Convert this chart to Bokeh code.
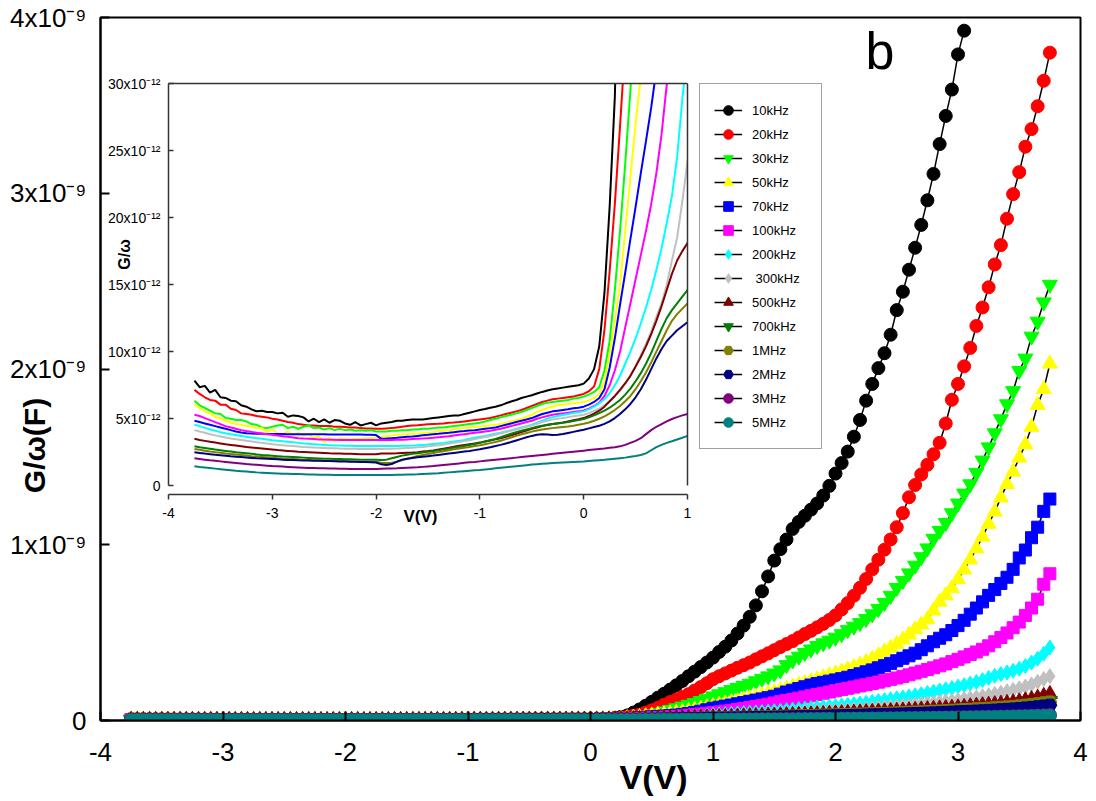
import math
import numpy as np
from bokeh.plotting import figure
from bokeh.layouts import column
from bokeh.models import (ColumnDataSource, Range1d, FixedTicker, CustomJSTickFormatter,
                          Legend, LegendItem, Label, LinearAxis)
from bokeh.embed import file_html
from bokeh.resources import INLINE

# ---------------- data (G/omega in pF, i.e. 1e-12 F) ----------------
voltage = np.round(np.linspace(-3.75, 3.75, 151), 2)   # bias sweep, V

freq_labels = ["10kHz", "20kHz", "30kHz", "50kHz", "70kHz", "100kHz", "200kHz",
               " 300kHz", "500kHz", "700kHz", "1MHz", "2MHz", "3MHz", "5MHz"]
colors = ["#000000", "#ff0000", "#00ff00", "#ffff00", "#0000ff", "#ff00ff", "#00ffff",
          "#c0c0c0", "#800000", "#008000", "#808000", "#000080", "#800080", "#008080"]
markers = ["circle", "circle", "inverted_triangle", "triangle", "square", "square", "diamond",
           "diamond", "triangle", "inverted_triangle", "hex", "hex", "circle", "circle"]
marker_sizes = [13, 13, 15, 15, 12, 12, 15, 15, 15, 15, 14, 14, 13, 13]

N = None
g_10kHz = [7.85, 7.35, 7.45, 6.95, 7.15, 6.60, 6.55, 6.35, 6.30, 6.00, 5.90, 5.70, 5.55, 5.60, 5.50, 5.50, 5.40, 5.45, 5.15, 5.25, 5.20, 5.10, 4.80, 5.00, 4.75, 4.95, 4.70, 4.90, 4.85, 4.65, 4.55, 4.75, 4.50, 4.60, 4.70, 4.50, 4.65, 4.70, 4.75, 4.85, 4.85, 4.90, 4.95, 4.95, 4.95, 5.00, 5.05, 5.10, 5.15, 5.20, 5.25, 5.25, 5.35, 5.45, 5.55, 5.65,
           5.72, 5.82, 5.90, 6.00, 6.15, 6.28, 6.40, 6.55, 6.65, 6.75, 6.88, 7.00, 7.10, 7.20, 7.26, 7.32, 7.38, 7.44, 7.50, 7.62,
           8.0, 8.7, 10.4, 14.4, 20.8, 29.0, 45, 63, 84, 106, 130, 152, 176, 200, 225, 252, 278, 304, 330, 358,
           390, 420, 455, 495, 540, 590, 655, 735, 820, 910, 975, 1030, 1090, 1130, 1165, 1200, 1235, 1280, 1335, 1405, 1465, 1530, 1615, 1710, 1820, 1915, 2005, 2090, 2195, 2335, 2440, 2565, 2690, 2820, 2960, 3110, 3280, 3440, 3590, 3790, 3925, N, N, N, N, N, N, N, N, N, N, N, N, N, N]
g_20kHz = [7.15, 6.85, 6.60, 6.40, 6.35, 6.05, 6.05, 5.75, 5.65, 5.40, 5.35, 5.30, 5.20, 5.15, 5.10, 5.00, 4.95, 4.85, 4.75, 4.70, 4.60, 4.55, 4.50, 4.50, 4.45, 4.45, 4.45, 4.40, 4.40, 4.38, 4.35, 4.35, 4.30, 4.28, 4.28, 4.25, 4.25, 4.28, 4.30, 4.35, 4.40, 4.45, 4.50, 4.52, 4.55, 4.58, 4.60, 4.62, 4.65, 4.70, 4.72, 4.75, 4.80, 4.85, 4.90, 4.95,
           5.00, 5.05, 5.15, 5.25, 5.35, 5.45, 5.55, 5.65, 5.80, 5.95, 6.10, 6.25, 6.35, 6.45, 6.50, 6.55, 6.60, 6.65, 6.75, 6.85,
           7.05, 7.40, 8.70, 11.6, 16.0, 21.0, 26.8, 33, 45, 58, 72, 90, 105, 118, 134, 150, 170, 190, 212, 235,
           252, 268, 284, 300, 315, 330, 348, 365, 382, 400, 418, 435, 452, 472, 492, 510, 530, 550, 572, 598, 632, 668, 710, 755, 805, 860, 915, 972, 1030, 1100, 1180, 1270, 1340, 1400, 1455, 1515, 1580, 1690, 1825, 1915, 2015, 2120, 2245, 2350, 2465, 2595, 2705, 2855, 2995, 3120, 3265, 3365, 3495, 3640, 3800]
g_30kHz = [6.35, 6.00, 5.80, 5.60, 5.40, 5.35, 5.05, 5.00, 4.90, 4.90, 4.80, 4.60, 4.55, 4.35, 4.30, 4.40, 4.50, 4.55, 4.30, 4.40, 4.25, 4.40, 4.50, 4.30, 4.35, 4.20, 4.30, 4.15, 4.25, 4.15, 4.20, 4.10, 4.15, 4.10, 4.15, 4.05, 4.05, 4.05, 4.10, 4.10, 4.15, 4.15, 4.20, 4.20, 4.25, 4.25, 4.30, 4.35, 4.35, 4.40, 4.45, 4.50, 4.55, 4.60, 4.65, 4.70,
           4.80, 4.90, 5.00, 5.10, 5.20, 5.30, 5.40, 5.50, 5.65, 5.80, 5.95, 6.10, 6.20, 6.25, 6.30, 6.35, 6.40, 6.50, 6.55, 6.65,
           6.80, 7.00, 7.35, 8.60, 10.8, 14.6, 19.0, 24.0, 29.5, 36, 44, 52, 61, 70, 80, 90, 100, 112, 124, 138,
           150, 162, 174, 186, 198, 210, 224, 238, 252, 268, 286, 316, 343, 364, 385, 405, 425, 440, 455, 472, 492, 515, 535, 555, 578, 605, 635, 670, 710, 755, 795, 838, 882, 930, 980, 1035, 1080, 1125, 1180, 1235, 1292, 1345, 1410, 1480, 1555, 1635, 1715, 1800, 1875, 1990, 2060, 2185, 2270, 2380, 2480]
g_50kHz = [6.05, 5.80, 5.55, 5.40, 5.15, 5.00, 4.85, 4.70, 4.60, 4.55, 4.45, 4.40, 4.30, 4.30, 4.00, 4.20, 3.90, 3.85, 4.05, 3.80, 3.95, 3.75, 3.85, 3.55, 3.70, 3.25, 3.60, 3.30, 3.55, 3.50, 3.45, 3.50, 3.50, 3.55, 3.55, 3.60, 3.65, 3.70, 3.75, 3.80, 3.82, 3.85, 3.88, 3.90, 3.92, 3.95, 4.00, 4.05, 4.10, 4.15, 4.20, 4.25, 4.30, 4.35, 4.38, 4.40,
           4.45, 4.50, 4.55, 4.60, 4.70, 4.80, 4.90, 5.00, 5.15, 5.30, 5.50, 5.65, 5.80, 5.90, 6.00, 6.05, 6.10, 6.15, 6.20, 6.25,
           6.35, 6.55, 6.85, 7.75, 9.80, 12.2, 15.0, 19.0, 23.0, 27.0, 30.5, 34, 38, 43, 48, 53, 60, 67, 74, 82,
           89, 96, 103, 110, 118, 126, 134, 143, 152, 161, 171, 181, 191, 201, 212, 223, 234, 245, 256, 267, 278, 290, 303, 316, 332, 350, 370, 392, 413, 435, 460, 488, 518, 545, 575, 625, 675, 712, 752, 803, 858, 915, 978, 1045, 1118, 1188, 1268, 1345, 1415, 1495, 1570, 1670, 1795, 1885, 2030]
g_70kHz = [4.85, 4.75, 4.65, 4.55, 4.45, 4.35, 4.25, 4.15, 4.05, 3.98, 3.92, 3.90, 3.88, 3.88, 3.87, 3.86, 3.86, 3.86, 3.85, 3.85, 3.85, 3.85, 3.84, 3.84, 3.84, 3.84, 3.83, 3.83, 3.83, 3.83, 3.82, 3.82, 3.82, 3.81, 3.80, 3.78, 3.50, 3.52, 3.55, 3.58, 3.62, 3.65, 3.68, 3.72, 3.76, 3.80, 3.85, 3.88, 3.92, 3.95, 4.00, 4.05, 4.08, 4.12, 4.15, 4.20,
           4.25, 4.30, 4.35, 4.45, 4.55, 4.65, 4.75, 4.85, 4.95, 5.05, 5.20, 5.35, 5.45, 5.55, 5.60, 5.65, 5.70, 5.78, 5.82, 5.90,
           6.05, 6.25, 6.55, 7.20, 8.80, 11.0, 13.5, 15.9, 18.4, 20.8, 23.3, 25.7, 28.2, 31, 35, 40, 46, 53, 61, 70,
           76, 82, 88, 95, 102, 109, 116, 123, 130, 138, 150, 162, 172, 182, 192, 202, 210, 217, 224, 231, 238, 246, 256, 266, 277, 288, 300, 312, 325, 340, 354, 368, 383, 403, 425, 448, 468, 488, 512, 540, 570, 605, 640, 675, 712, 745, 780, 815, 860, 925, 970, 1040, 1100, 1190, 1260]
g_100kHz = [5.30, 5.20, 5.05, 4.90, 4.75, 4.60, 4.45, 4.35, 4.25, 4.15, 4.08, 4.02, 3.95, 3.90, 3.85, 3.80, 3.75, 3.70, 3.65, 3.60, 3.55, 3.52, 3.50, 3.48, 3.46, 3.45, 3.44, 3.43, 3.42, 3.42, 3.42, 3.42, 3.42, 3.42, 3.42, 3.42, 3.42, 3.42, 3.42, 3.43, 3.44, 3.46, 3.48, 3.50, 3.52, 3.55, 3.58, 3.62, 3.66, 3.70, 3.75, 3.80, 3.85, 3.90, 3.95, 4.00,
            4.05, 4.10, 4.18, 4.25, 4.35, 4.45, 4.55, 4.65, 4.75, 4.85, 5.00, 5.10, 5.20, 5.30, 5.35, 5.40, 5.45, 5.50, 5.55, 5.62,
            5.75, 5.95, 6.20, 6.70, 7.50, 8.60, 10.0, 11.8, 13.6, 15.4, 17.2, 19.0, 21.0, 23.3, 26.2, 29.9, 33.5, 37, 41, 45,
            49, 53, 58, 63, 68, 74, 80, 86, 93, 100, 107, 114, 120, 127, 134, 141, 148, 155, 162, 169, 176, 183, 190, 197, 204, 211, 218, 226, 234, 242, 251, 260, 270, 280, 290, 300, 311, 322, 335, 348, 362, 376, 390, 405, 425, 448, 472, 498, 528, 560, 598, 640, 690, 775, 835]
g_200kHz = [4.55, 4.45, 4.32, 4.20, 4.10, 4.00, 3.92, 3.85, 3.78, 3.72, 3.66, 3.60, 3.55, 3.50, 3.45, 3.40, 3.36, 3.32, 3.28, 3.24, 3.20, 3.16, 3.13, 3.10, 3.07, 3.05, 3.03, 3.01, 3.00, 2.99, 2.98, 2.97, 2.96, 2.96, 2.96, 2.96, 2.96, 2.96, 2.96, 2.97, 2.98, 2.99, 3.00, 3.02, 3.05, 3.08, 3.12, 3.16, 3.20, 3.25, 3.30, 3.35, 3.42, 3.50, 3.58, 3.65,
            3.72, 3.80, 3.88, 3.96, 4.05, 4.15, 4.25, 4.35, 4.45, 4.55, 4.70, 4.85, 5.00, 5.12, 5.20, 5.28, 5.35, 5.42, 5.48, 5.55,
            5.70, 5.90, 6.15, 6.45, 6.90, 7.50, 8.20, 9.10, 10.0, 11.0, 12.1, 13.3, 14.6, 16.1, 17.7, 19.6, 21.6, 24.5, 28.8, 32.5,
            34, 36, 38, 40, 42, 44, 46, 48, 50, 53, 56, 59, 62, 65, 68, 71, 74, 77, 80, 83, 86, 89, 93, 97, 101, 106, 111, 116, 121, 126, 131, 137, 143, 150, 157, 164, 171, 178, 185, 193, 201, 210, 219, 230, 242, 254, 264, 273, 283, 295, 310, 330, 352, 380, 415]
g_300kHz = [4.15, 4.05, 3.95, 3.85, 3.76, 3.68, 3.60, 3.53, 3.47, 3.41, 3.35, 3.30, 3.25, 3.20, 3.15, 3.10, 3.06, 3.02, 2.99, 2.96, 2.93, 2.90, 2.88, 2.86, 2.84, 2.82, 2.80, 2.79, 2.78, 2.77, 2.76, 2.76, 2.75, 2.75, 2.75, 2.75, 2.75, 2.76, 2.77, 2.78, 2.80, 2.82, 2.84, 2.87, 2.90, 2.94, 2.98, 3.03, 3.08, 3.14, 3.20, 3.26, 3.33, 3.40, 3.48, 3.56,
            3.64, 3.72, 3.80, 3.90, 4.00, 4.10, 4.20, 4.30, 4.40, 4.50, 4.62, 4.75, 4.85, 4.95, 5.00, 5.05, 5.12, 5.18, 5.24, 5.30,
            5.42, 5.58, 5.75, 6.00, 6.30, 6.70, 7.10, 7.60, 8.20, 8.90, 9.75, 10.6, 11.5, 12.6, 13.6, 15.0, 16.8, 18.5, 21.2, 24.2,
            25, 26, 27, 28, 29.5, 31, 32.5, 34, 35.5, 37, 39, 41, 43, 45, 47, 49, 51, 53, 55, 57, 59, 61, 63, 65, 67, 69, 72, 75, 78, 81, 84, 87, 90, 93, 97, 101, 105, 109, 113, 117, 122, 127, 132, 138, 144, 151, 158, 166, 174, 183, 193, 205, 220, 236, 252]
g_500kHz = [3.50, 3.42, 3.35, 3.28, 3.22, 3.16, 3.10, 3.05, 3.00, 2.95, 2.90, 2.86, 2.82, 2.78, 2.74, 2.70, 2.66, 2.63, 2.60, 2.57, 2.54, 2.52, 2.50, 2.48, 2.46, 2.44, 2.42, 2.41, 2.40, 2.39, 2.38, 2.37, 2.36, 2.36, 2.35, 2.35, 2.40, 2.40, 2.41, 2.42, 2.44, 2.46, 2.48, 2.51, 2.55, 2.59, 2.64, 2.70, 2.77, 2.84, 2.92, 2.98, 3.04, 3.10, 3.16, 3.22,
            3.30, 3.38, 3.46, 3.55, 3.65, 3.76, 3.88, 4.00, 4.12, 4.25, 4.35, 4.45, 4.53, 4.60, 4.66, 4.72, 4.80, 4.88, 4.96, 5.05,
            5.20, 5.38, 5.60, 5.90, 6.30, 6.70, 7.15, 7.65, 8.20, 8.90, 9.60, 10.4, 11.3, 12.3, 13.4, 14.6, 15.8, 16.8, 17.5, 18.1,
            19, 20, 21, 22, 23, 24, 25, 26, 27, 28, 29, 30, 31, 32, 33, 34, 35, 36.5, 38, 39.5, 41, 42.5, 44, 45.5, 47, 48.5, 50, 51.5, 53, 54.5, 56, 58, 60, 62, 64, 66, 68, 70, 72, 74, 77, 80, 83, 86, 89, 92, 95, 99, 103, 108, 114, 121, 129, 139, 150]
g_700kHz = [2.95, 2.88, 2.82, 2.76, 2.70, 2.65, 2.60, 2.55, 2.50, 2.46, 2.42, 2.38, 2.34, 2.30, 2.27, 2.24, 2.21, 2.18, 2.16, 2.14, 2.12, 2.10, 2.08, 2.06, 2.04, 2.02, 2.01, 2.00, 1.99, 1.98, 1.97, 1.96, 1.95, 1.95, 1.94, 1.94, 1.93, 1.95, 2.05, 2.15, 2.25, 2.32, 2.38, 2.43, 2.48, 2.53, 2.58, 2.64, 2.70, 2.76, 2.83, 2.90, 2.97, 3.04, 3.12, 3.20,
            3.30, 3.40, 3.50, 3.62, 3.75, 3.88, 4.00, 4.10, 4.20, 4.30, 4.40, 4.48, 4.55, 4.60, 4.65, 4.70, 4.76, 4.83, 4.90, 4.98,
            5.10, 5.25, 5.42, 5.60, 5.82, 6.10, 6.40, 6.80, 7.25, 7.80, 8.40, 9.10, 9.90, 10.8, 11.7, 12.5, 13.1, 13.6, 14.1, 14.6,
            15, 16, 17, 18, 19, 20, 21, 22, 23, 24, 25, 26, 27, 28, 29, 30, 31, 32, 33, 34, 35, 36, 37, 38, 39, 40, 41.5, 43, 44.5, 46, 47.5, 49, 50.5, 52, 53.5, 55, 57, 59, 61, 63, 65, 67, 69, 71, 73, 75.5, 78, 81, 84, 88, 92, 96, 101, 106, 112]
g_1MHz = [2.75, 2.68, 2.62, 2.56, 2.51, 2.46, 2.41, 2.37, 2.33, 2.29, 2.25, 2.21, 2.18, 2.15, 2.12, 2.09, 2.06, 2.03, 2.01, 1.99, 1.97, 1.95, 1.93, 1.91, 1.90, 1.88, 1.87, 1.86, 1.85, 1.84, 1.83, 1.82, 1.81, 1.81, 1.80, 1.80, 1.72, 1.70, 1.72, 1.78, 1.90, 2.02, 2.12, 2.22, 2.30, 2.37, 2.44, 2.51, 2.58, 2.65, 2.72, 2.78, 2.84, 2.90, 2.96, 3.02,
          3.10, 3.18, 3.26, 3.36, 3.48, 3.60, 3.72, 3.84, 3.94, 4.04, 4.12, 4.20, 4.26, 4.30, 4.34, 4.38, 4.42, 4.48, 4.55, 4.62,
          4.72, 4.85, 5.00, 5.18, 5.40, 5.65, 5.95, 6.30, 6.70, 7.20, 7.80, 8.45, 9.20, 10.0, 10.8, 11.6, 12.3, 12.8, 13.2, 13.6,
          14, 15, 16, 16.8, 17.6, 18.4, 19.2, 20, 21, 22, 23, 24, 25, 26, 27, 28, 29, 30, 31, 32, 33, 34, 35, 36, 37, 38, 39, 40.5, 42, 43.5, 45, 46.5, 48, 49.5, 51, 52.5, 54, 56, 58, 60, 62, 64, 66, 68, 70, 72, 74.5, 77, 80, 83, 87, 91, 95, 100, 105]
g_2MHz = [2.50, 2.45, 2.40, 2.36, 2.32, 2.28, 2.24, 2.20, 2.17, 2.14, 2.11, 2.08, 2.05, 2.03, 2.01, 1.99, 1.97, 1.95, 1.93, 1.92, 1.90, 1.89, 1.88, 1.87, 1.86, 1.85, 1.84, 1.83, 1.82, 1.81, 1.80, 1.79, 1.78, 1.77, 1.76, 1.74, 1.60, 1.55, 1.62, 1.80, 1.95, 2.02, 2.08, 2.13, 2.17, 2.21, 2.25, 2.30, 2.35, 2.40, 2.45, 2.50, 2.55, 2.60, 2.66, 2.72,
          2.80, 2.88, 2.96, 3.05, 3.15, 3.26, 3.38, 3.50, 3.62, 3.72, 3.80, 3.84, 3.82, 3.78, 3.80, 3.86, 3.94, 4.02, 4.10, 4.18,
          4.28, 4.38, 4.48, 4.62, 4.80, 5.05, 5.35, 5.70, 6.10, 6.60, 7.20, 7.90, 8.70, 9.50, 10.2, 10.8, 11.2, 11.6, 11.9, 12.2,
          12.6, 13.2, 13.8, 14.4, 15, 15.7, 16.4, 17.1, 17.8, 18.5, 19.2, 20, 20.8, 21.6, 22.4, 23.2, 24, 24.8, 25.6, 26.4, 27.2, 28, 29, 30, 31, 32, 33, 34, 35, 36, 37, 38.2, 39.4, 40.6, 41.8, 43, 44.5, 46, 47.5, 49, 50.5, 52, 53.5, 55, 57, 59, 61, 63, 65.5, 68, 71, 74, 78, 82, 87]
g_3MHz = [2.05, 2.00, 1.95, 1.90, 1.86, 1.82, 1.78, 1.74, 1.70, 1.66, 1.62, 1.59, 1.56, 1.53, 1.50, 1.47, 1.45, 1.43, 1.41, 1.39, 1.37, 1.35, 1.33, 1.32, 1.31, 1.30, 1.29, 1.28, 1.27, 1.27, 1.26, 1.26, 1.26, 1.26, 1.26, 1.26, 1.27, 1.28, 1.29, 1.30, 1.32, 1.34, 1.36, 1.38, 1.41, 1.44, 1.47, 1.51, 1.55, 1.59, 1.63, 1.67, 1.71, 1.75, 1.78, 1.82,
          1.86, 1.90, 1.94, 1.98, 2.02, 2.06, 2.10, 2.14, 2.18, 2.22, 2.26, 2.30, 2.34, 2.38, 2.42, 2.46, 2.50, 2.54, 2.58, 2.62,
          2.66, 2.70, 2.74, 2.78, 2.83, 2.88, 2.94, 3.05, 3.20, 3.35, 3.55, 3.85, 4.15, 4.40, 4.60, 4.80, 4.98, 5.12, 5.25, 5.35,
          5.5, 5.7, 5.9, 6.1, 6.3, 6.5, 6.7, 6.9, 7.1, 7.3, 7.5, 7.7, 7.9, 8.1, 8.4, 8.7, 9, 9.3, 9.6, 9.9, 10.2, 10.5, 10.8, 11.1, 11.4, 11.8, 12.2, 12.6, 13, 13.4, 13.8, 14.2, 14.6, 15, 15.5, 16, 16.5, 17, 17.5, 18, 18.6, 19.2, 19.8, 20.4, 21, 21.8, 22.6, 23.4, 24.2, 25, 26, 27, 28.5, 30, 32]
g_5MHz = [1.45, 1.40, 1.36, 1.32, 1.28, 1.24, 1.20, 1.16, 1.12, 1.09, 1.06, 1.03, 1.00, 0.98, 0.96, 0.94, 0.92, 0.90, 0.89, 0.88, 0.87, 0.86, 0.85, 0.84, 0.83, 0.82, 0.82, 0.81, 0.81, 0.80, 0.80, 0.80, 0.80, 0.80, 0.80, 0.80, 0.80, 0.81, 0.81, 0.82, 0.83, 0.84, 0.85, 0.86, 0.88, 0.90, 0.92, 0.94, 0.97, 1.00, 1.03, 1.06, 1.09, 1.12, 1.15, 1.18,
          1.22, 1.26, 1.30, 1.34, 1.38, 1.42, 1.46, 1.50, 1.54, 1.58, 1.61, 1.64, 1.67, 1.70, 1.72, 1.74, 1.76, 1.78, 1.80, 1.82,
          1.85, 1.88, 1.91, 1.94, 1.98, 2.02, 2.06, 2.10, 2.16, 2.22, 2.30, 2.42, 2.65, 2.88, 3.05, 3.20, 3.32, 3.45, 3.58, 3.72,
          3.9, 4.1, 4.3, 4.5, 4.7, 4.9, 5.1, 5.3, 5.5, 5.7, 5.9, 6.1, 6.3, 6.5, 6.8, 7.1, 7.4, 7.7, 8, 8.3, 8.6, 8.9, 9.2, 9.5, 9.8, 10.1, 10.4, 10.8, 11.2, 11.6, 12, 12.4, 12.8, 13.2, 13.6, 14, 14.5, 15, 15.5, 16, 16.5, 17, 17.6, 18.2, 18.8, 19.4, 20, 20.8, 21.6, 22.4, 23.2, 24, 25, 26, 27.5]

series = [g_10kHz, g_20kHz, g_30kHz, g_50kHz, g_70kHz, g_100kHz, g_200kHz,
          g_300kHz, g_500kHz, g_700kHz, g_1MHz, g_2MHz, g_3MHz, g_5MHz]

main_x_ticks = [-4, -3, -2, -1, 0, 1, 2, 3, 4]
main_y_ticks = [0, 1e-9, 2e-9, 3e-9, 4e-9]
inset_x_ticks = [-4, -3, -2, -1, 0, 1]
inset_y_ticks = [0, 5e-12, 10e-12, 15e-12, 20e-12, 25e-12, 30e-12]

FONT = "Liberation Sans"
BORDER_L, BORDER_R = 100, 8          # shared by all stacked figures (frames get aligned)
OVER_W, OVER_H = 980, 800
plain_fmt = CustomJSTickFormatter(code="return String(tick);")

# ---------------- main figure ----------------
p = figure(frame_width=980, frame_height=703, x_range=Range1d(-4, 4), y_range=Range1d(0, 4e-9),
           output_backend="svg", toolbar_location=None,
           min_border_left=BORDER_L, min_border_right=BORDER_R, min_border_top=17, min_border_bottom=73)
p.grid.visible = False
p.outline_line_color = "black"
p.outline_line_width = 2
p.background_fill_color = "white"
p.border_fill_color = "white"

for ax in (p.xaxis[0], p.yaxis[0]):
    ax.axis_line_width = 2
    ax.axis_line_color = "black"
    ax.major_tick_in = 9
    ax.major_tick_out = 0
    ax.major_tick_line_width = 2
    ax.major_tick_line_color = "black"
    ax.minor_tick_line_color = None
    ax.major_label_text_font = FONT
    ax.major_label_text_color = "black"
p.xaxis.ticker = FixedTicker(ticks=main_x_ticks)
p.xaxis.formatter = plain_fmt
p.xaxis.major_label_text_font_size = "26px"
p.xaxis.major_label_standoff = 22
p.yaxis.ticker = FixedTicker(ticks=main_y_ticks)
p.yaxis.major_label_text_font_size = "26px"
p.yaxis.major_label_standoff = 14
p.yaxis.formatter = CustomJSTickFormatter(
    code="const m = Math.round(tick / 1e-9); return m === 0 ? '0' : m + 'x10\u207b\u2079';")

items = []
for vals, lab, col, mk, ms in zip(series, freq_labels, colors, markers, marker_sizes):
    src = ColumnDataSource(dict(v=voltage, g=np.array(vals, dtype=float) * 1e-12))
    ln = p.line("v", "g", source=src, line_color="black", line_width=1.5)
    sc = p.scatter("v", "g", source=src, marker=mk, size=ms, fill_color=col, line_color=col)
    items.append(LegendItem(label=lab, renderers=[ln, sc]))

legend = Legend(items=items, location=(599, 271), orientation="vertical",
                glyph_width=28, glyph_height=24, label_height=24, spacing=0,
                padding=14, margin=0, label_standoff=10, label_width=55,
                label_text_font=FONT, label_text_font_size="13px", label_text_color="black",
                border_line_color="#444444", border_line_width=1.5,
                background_fill_color="white", background_fill_alpha=1.0)
p.add_layout(legend)

# ---------------- inset figure ----------------
q = figure(frame_width=519, frame_height=411, x_range=Range1d(-4, 1),
           y_range=Range1d(-0.65e-12, 30e-12),
           output_backend="svg", toolbar_location=None,
           min_border_left=BORDER_L, min_border_right=BORDER_R, min_border_top=13, min_border_bottom=40)
q.grid.visible = False
q.outline_line_color = None
q.background_fill_color = None
q.border_fill_color = None
q.margin = (-723, 0, 0, 168 - BORDER_L)

INSET_AX = "#333333"
for ax in (q.xaxis[0], q.yaxis[0]):
    ax.axis_line_width = 1.5
    ax.axis_line_color = INSET_AX
    ax.major_tick_line_color = INSET_AX
    ax.major_tick_line_width = 1.5
    ax.minor_tick_line_color = None
    ax.major_label_text_font = FONT
    ax.major_label_text_font_size = "14px"
    ax.major_label_text_color = "black"
q.xaxis.ticker = FixedTicker(ticks=inset_x_ticks)
q.xaxis.formatter = plain_fmt
q.xaxis.major_tick_in = 0
q.xaxis.major_tick_out = 5
q.xaxis.major_label_standoff = 8
q.yaxis.ticker = FixedTicker(ticks=inset_y_ticks)
q.yaxis.bounds = (0, 30e-12)
q.yaxis.major_tick_in = 5
q.yaxis.major_tick_out = 0
q.yaxis.major_label_standoff = 8
q.yaxis.formatter = CustomJSTickFormatter(
    code="const m = Math.round(tick / 1e-12); return m === 0 ? '0' : m + 'x10\u207b\u00b9\u00b2';")

top_ax = LinearAxis(ticker=FixedTicker(ticks=[]), axis_line_color=INSET_AX, axis_line_width=1.5,
                    major_tick_in=0, major_tick_out=0, minor_tick_line_color=None,
                    major_label_standoff=0, major_label_text_font_size="1px")
right_ax = LinearAxis(ticker=FixedTicker(ticks=[]), axis_line_color=INSET_AX, axis_line_width=1.5,
                      major_tick_in=0, major_tick_out=0, minor_tick_line_color=None,
                      major_label_standoff=0, major_label_text_font_size="1px",
                      bounds=(0, 30e-12))
q.add_layout(top_ax, "above")
q.add_layout(right_ax, "right")

for vals, col in zip(series, colors):
    src = ColumnDataSource(dict(v=voltage, g=np.array(vals, dtype=float) * 1e-12))
    q.line("v", "g", source=src, line_color=col, line_width=2)

# ---------------- transparent overlay for free-standing texts ----------------
r = figure(frame_width=OVER_W, frame_height=OVER_H, x_range=Range1d(0, OVER_W), y_range=Range1d(0, OVER_H),
           output_backend="svg", toolbar_location=None,
           min_border_left=BORDER_L, min_border_right=BORDER_R, min_border_top=0, min_border_bottom=0,
           x_axis_location=None, y_axis_location=None)
r.grid.visible = False
r.outline_line_color = None
r.background_fill_color = None
r.border_fill_color = None
r.margin = (-(70 + 464), 0, 0, -BORDER_L)

def page_label(sx, sy, text, size, bold=True, angle=0.0, align="center"):
    r.add_layout(Label(x=sx, y=OVER_H - sy, text=text, angle=angle,
                       text_align=align, text_baseline="middle", text_font=FONT,
                       text_font_size=size, text_font_style="bold" if bold else "normal",
                       text_color="black"))

page_label(34, 445, "G/\u03c9(F)", "30px", angle=math.pi / 2)
page_label(653, 776, "V(V)", "34px")
page_label(865, 50, "b", "52px", bold=False, align="left")
page_label(124, 254, "G/\u03c9", "16px", angle=math.pi / 2)
page_label(420, 516, "V(V)", "17px")

layout = column(p, q, r, spacing=0)
open("out.html", "w").write(file_html(layout, INLINE))
